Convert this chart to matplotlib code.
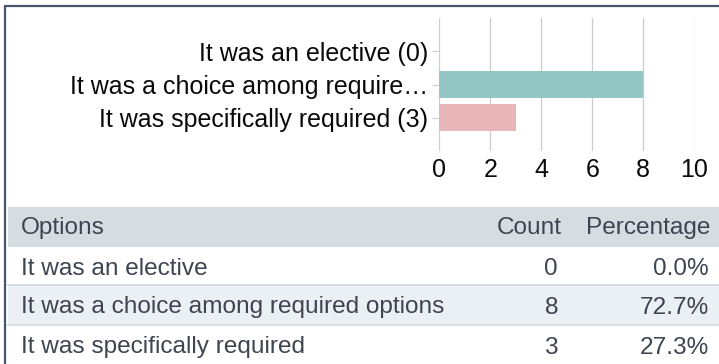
import matplotlib.pyplot as plt
from matplotlib.patches import Rectangle

plt.rcParams['font.family'] = ['Liberation Sans', 'DejaVu Sans']

# survey answers
options = ['It was an elective', 'It was a choice among required options',
           'It was specifically required']
axis_labels = ['It was an elective (0)', 'It was a choice among require\u2026',
               'It was specifically required (3)']
counts = [0, 8, 3]
percentages = ['0.0%', '72.7%', '27.3%']
bar_colors = ['#93c6c5', '#93c6c5', '#e8b5b9']
x_ticks = [0, 2, 4, 6, 8, 10]

W, H = 719, 364
fig = plt.figure(figsize=(W / 100, H / 100), dpi=100)

# page overlay in pixel coordinates for frame and table
page = fig.add_axes([0, 0, 1, 1])
page.set_xlim(0, W)
page.set_ylim(H, 0)
page.axis('off')

frame_color = '#46556a'
page.plot([5, W], [5.8, 5.8], color=frame_color, lw=1.6, solid_capstyle='butt')
page.plot([5, 5], [5, H], color=frame_color, lw=1.6, solid_capstyle='butt')

# bar chart
ax = fig.add_axes([439.3 / W, 1 - 151 / H, 255 / W, 133 / H])
ypos = list(range(len(counts)))
ax.barh(ypos, counts, height=0.8, color=bar_colors, zorder=2)
ax.set_xlim(0, 10)
ax.set_ylim(3, -1)
ax.set_xticks(x_ticks)
ax.set_yticks(ypos)
ax.set_yticklabels(axis_labels)
ax.grid(axis='x', color='#cccccc', lw=0.9, zorder=0)
for s in ax.spines.values():
    s.set_visible(False)
ax.tick_params(axis='x', length=0, pad=5, labelsize=18, labelcolor='#0a0a0a')
ax.tick_params(axis='y', length=5, width=0.8, color='#cccccc', pad=3,
               labelsize=18, labelcolor='#0a0a0a')

# summary table
text_color = '#3c4550'
line_color = '#d8dfe4'
fs = 17.6
header_top, row_h = 207, 39.5
page.add_patch(Rectangle((8, header_top), W - 8, 40, color='#d6dde2', lw=0))
row_tops = [247, 285.5, 325.5]
row_fill = ['white', '#ebf0f5', 'white']
for top, fc in zip(row_tops, row_fill):
    page.add_patch(Rectangle((8, top), W - 8, row_h, color=fc, lw=0))
for y in [285, 325]:
    page.plot([8, W], [y, y], color=line_color, lw=1.5)

ty = header_top + 21
page.text(21, ty, 'Options', fontsize=fs, color=text_color, va='center')
page.text(562, ty, 'Count', fontsize=fs, color=text_color, va='center', ha='right')
page.text(710, ty, 'Percentage', fontsize=fs, color=text_color, va='center', ha='right')
for top, opt, c, p in zip(row_tops, options, counts, percentages):
    cy = top + 22
    page.text(21, cy, opt, fontsize=fs, color=text_color, va='center')
    page.text(558, cy, str(c), fontsize=fs, color=text_color, va='center', ha='right')
    page.text(709, cy, p, fontsize=fs, color=text_color, va='center', ha='right')

fig.savefig('out.png', dpi=100)
